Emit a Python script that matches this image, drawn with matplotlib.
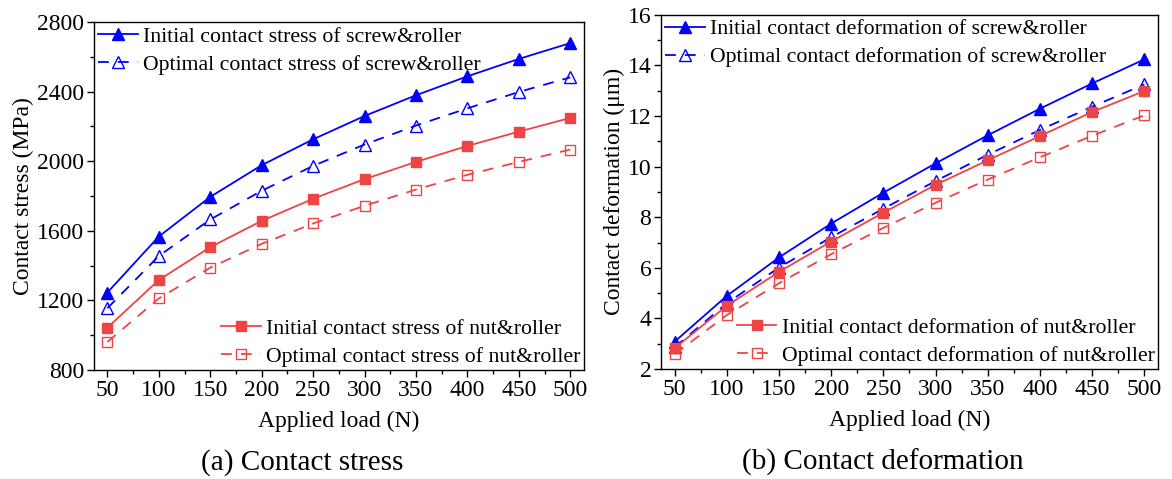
import numpy as np
import matplotlib.pyplot as plt
from matplotlib.ticker import MultipleLocator

plt.rcParams['font.family'] = ['Liberation Serif', 'DejaVu Serif']
plt.rcParams['mathtext.fontset'] = 'stix'

# Applied load (N)
load = [50, 100, 150, 200, 250, 300, 350, 400, 450, 500]

# Contact stress (MPa)
stress_screw_init = [1245, 1567, 1795, 1977, 2126, 2260, 2379, 2488, 2588, 2679]
stress_screw_opt = [1155, 1455, 1665, 1830, 1973, 2096, 2205, 2304, 2398, 2482]
stress_nut_init = [1043, 1317, 1506, 1657, 1784, 1897, 1996, 2088, 2170, 2249]
stress_nut_opt = [961, 1211, 1388, 1525, 1642, 1744, 1837, 1922, 1996, 2067]

# Contact deformation (um)
deform_screw_init = [3.08, 4.89, 6.41, 7.75, 8.97, 10.13, 11.24, 12.29, 13.29, 14.24]
deform_screw_opt = [2.86, 4.60, 6.01, 7.21, 8.34, 9.43, 10.47, 11.45, 12.37, 13.25]
deform_nut_init = [2.82, 4.50, 5.84, 7.04, 8.18, 9.28, 10.25, 11.21, 12.16, 12.99]
deform_nut_opt = [2.59, 4.13, 5.39, 6.54, 7.58, 8.57, 9.49, 10.37, 11.22, 12.03]

blue = '#0000FF'
red = '#EE4444'
fs_tick = 17
fs_label = 17
fs_leg = 15.7

fig = plt.figure(figsize=(11.72, 4.79), dpi=100)
ax1 = fig.add_axes([0.0802, 0.2276, 0.4178, 0.7264])
ax2 = fig.add_axes([0.564, 0.2296, 0.424, 0.7394])


def draw_panel(ax, y_si, y_so, y_ni, y_no, names):
    l1, = ax.plot(load, y_si, '-', color=blue, lw=1.3, marker='^', ms=9,
                  mfc=blue, mec=blue)
    l2, = ax.plot(load, y_so, '--', color=blue, lw=1.3, marker='^', ms=9,
                  mfc='none', mec=blue, dashes=(6, 5))
    l3, = ax.plot(load, y_ni, '-', color=red, lw=1.3, marker='s', ms=7.5,
                  mfc=red, mec=red)
    l4, = ax.plot(load, y_no, '--', color=red, lw=1.3, marker='s', ms=7.5,
                  mfc='none', mec=red, dashes=(6, 5))
    leg1 = ax.legend([l1, l2], names[:2], loc='upper left', frameon=False,
                     fontsize=fs_leg, handlelength=1.8, handletextpad=0.25,
                     borderaxespad=0.05, borderpad=0.15, labelspacing=0.35)
    ax.add_artist(leg1)
    ax.legend([l3, l4], names[2:], loc='lower right', frameon=False,
              fontsize=fs_leg, handlelength=1.8, handletextpad=0.25,
              borderaxespad=0.05, borderpad=0.1, labelspacing=0.35)

    ax.set_xlim(37, 513)
    ax.xaxis.set_major_locator(MultipleLocator(50))
    ax.xaxis.set_minor_locator(MultipleLocator(25))
    ax.tick_params(which='both', direction='out', labelsize=fs_tick,
                   width=1.0, top=False, right=False)
    ax.tick_params(which='major', length=5, pad=2)
    ax.tick_params(which='minor', length=3)
    for s in ax.spines.values():
        s.set_linewidth(1.0)
    ax.set_xlabel('Applied load (N)', fontsize=fs_label, labelpad=7)


draw_panel(ax1, stress_screw_init, stress_screw_opt, stress_nut_init, stress_nut_opt,
           ['Initial contact stress of screw&roller',
            'Optimal contact stress of screw&roller',
            'Initial contact stress of nut&roller',
            'Optimal contact stress of nut&roller'])
ax1.set_ylim(800, 2800)
ax1.yaxis.set_major_locator(MultipleLocator(400))
ax1.yaxis.set_minor_locator(MultipleLocator(200))
ax1.set_ylabel('Contact stress (MPa)', fontsize=fs_label, labelpad=2)

draw_panel(ax2, deform_screw_init, deform_screw_opt, deform_nut_init, deform_nut_opt,
           ['Initial contact deformation of screw&roller',
            'Optimal contact deformation of screw&roller',
            'Initial contact deformation of nut&roller',
            'Optimal contact deformation of nut&roller'])
ax2.set_ylim(2, 16)
ax2.yaxis.set_major_locator(MultipleLocator(2))
ax2.yaxis.set_minor_locator(MultipleLocator(1))
ax2.set_ylabel('Contact deformation (μm)', fontsize=fs_label, labelpad=2)

fig.text(0.258, 0.02, '(a) Contact stress', fontsize=21, ha='center')
fig.text(0.753, 0.02, '(b) Contact deformation', fontsize=21, ha='center')

fig.savefig('out.png', dpi=100)
